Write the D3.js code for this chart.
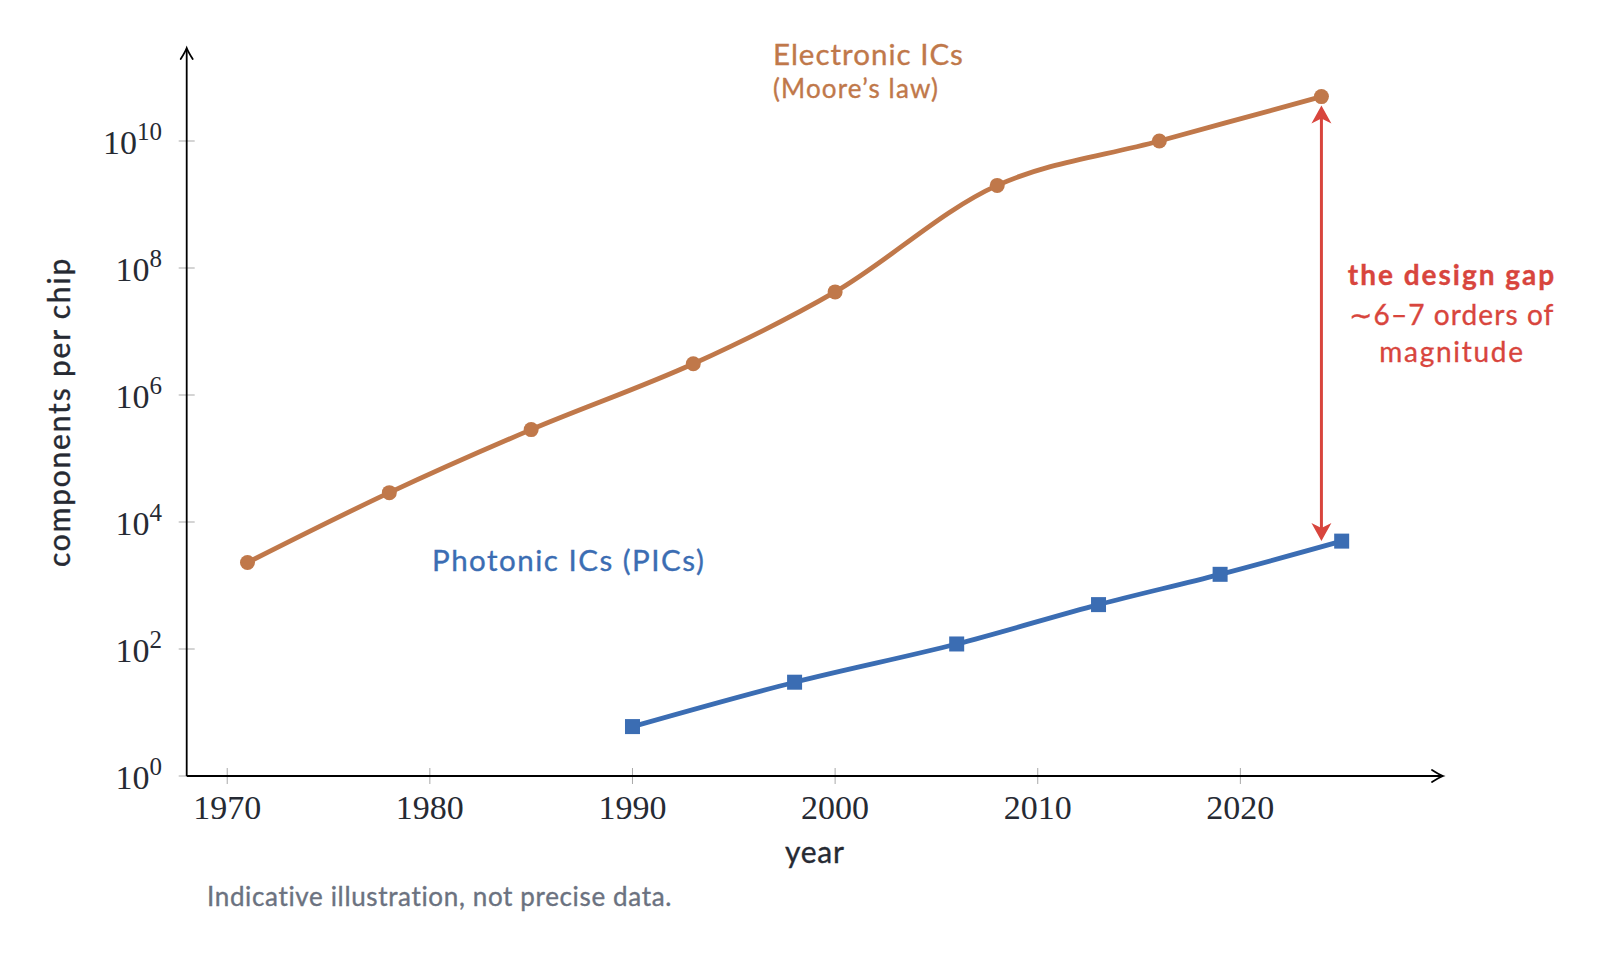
<!DOCTYPE html>
<html>
<head>
<meta charset="utf-8">
<script src="https://cdn.jsdelivr.net/npm/d3@7"></script>
<style>
  body{margin:0;background:#fff;}
  svg{display:block;}
</style>
</head>
<body>
<svg id="chart" width="1600" height="955"></svg>
<script>
// data
var electronicYears=[1971,1978,1985,1993,2000,2008,2016,2024];
var electronicVals=[2300,29000,285000,3.1e6,4.2e7,2e9,1e10,5e10];
var photonicYears=[1990,1998,2006,2013,2019,2025];
var photonicVals=[6,30,120,500,1500,5000];
var xTicks=[1970,1980,1990,2000,2010,2020];
var yTickExps=[0,2,4,6,8,10];
var gapYear=2024, gapTop=5e10, gapBottom=5e3;

var orange="#c0784a", blue="#3b6db3", red="#d8453d", ink="#262a33", grey="#6b7280";
var sans="Lato, 'Noto Sans', sans-serif";
var serif="'Liberation Serif', 'DejaVu Serif', serif";

var svg=d3.select("#chart");

var x=d3.scaleLinear().domain([1968,2030]).range([186.7,1443]);
var y=d3.scaleLog().domain([1,1e10]).range([776,141]);
var yTopPx=48;

var line=d3.line()
	.x(function(d){ return x(d[0]); })
	.y(function(d){ return y(d[1]); })
	.curve(d3.curveCatmullRom.alpha(0.5));

//grey ticks crossing the axes
svg.append("g").selectAll("line").data(xTicks).enter().append("line")
	.attr("x1",function(d){return x(d);}).attr("x2",function(d){return x(d);})
	.attr("y1",y(1)-8).attr("y2",y(1)+8)
	.attr("stroke","#a9a9a9").attr("stroke-width",1);
svg.append("g").selectAll("line").data(yTickExps).enter().append("line")
	.attr("y1",function(d){return y(Math.pow(10,d));}).attr("y2",function(d){return y(Math.pow(10,d));})
	.attr("x1",x.range()[0]-8).attr("x2",x.range()[0]+8)
	.attr("stroke","#a9a9a9").attr("stroke-width",1);

//axes lines
var x0=x.range()[0], y0=y(1), xEnd=x.range()[1];
svg.append("line").attr("x1",x0).attr("x2",xEnd-1).attr("y1",y0).attr("y2",y0)
	.attr("stroke","#000").attr("stroke-width",1.8);
svg.append("line").attr("x1",x0).attr("x2",x0).attr("y1",y0).attr("y2",yTopPx+1)
	.attr("stroke","#000").attr("stroke-width",1.8);

function axisArrow(px,py,angle){
	svg.append("path")
		.attr("d","M-6,11 Q-1.5,4 0,0 Q1.5,4 6,11")
		.attr("transform","translate("+px+","+py+") rotate("+angle+")")
		.attr("fill","none").attr("stroke","#000").attr("stroke-width",1.8)
		.attr("stroke-linecap","round");
}
axisArrow(x0,yTopPx,0);
axisArrow(xEnd,y0,90);

//tick labels
svg.append("g").selectAll("text").data(xTicks).enter().append("text")
	.attr("x",function(d){return x(d);}).attr("y",819)
	.attr("text-anchor","middle")
	.attr("font-family",serif).attr("font-size",34).attr("fill",ink)
	.text(function(d){return d;});

var yl=svg.append("g").selectAll("text").data(yTickExps).enter().append("text")
	.attr("x",162).attr("y",function(d){return y(Math.pow(10,d))+13;})
	.attr("text-anchor","end")
	.attr("font-family",serif).attr("font-size",34).attr("fill",ink);
yl.append("tspan").text("10");
yl.append("tspan").attr("dy",-14).attr("font-size",25).text(function(d){return d;});

//axis titles
svg.append("text").attr("x",(x0+xEnd)/2).attr("y",863)
	.attr("text-anchor","middle").attr("font-family",sans).attr("font-size",30)
	.attr("letter-spacing",0.7).attr("fill",ink).attr("stroke",ink).attr("stroke-width",0.35)
	.text("year");
svg.append("text").attr("transform","translate(70,412) rotate(-90)")
	.attr("text-anchor","middle").attr("font-family",sans).attr("font-size",30)
	.attr("letter-spacing",1.8).attr("fill",ink).attr("stroke",ink).attr("stroke-width",0.35)
	.text("components per chip");

//series
var eData=d3.zip(electronicYears,electronicVals);
var pData=d3.zip(photonicYears,photonicVals);

svg.append("path").datum(eData).attr("d",line)
	.attr("fill","none").attr("stroke",orange).attr("stroke-width",4.8).attr("stroke-linejoin","round");
svg.append("path").datum(pData).attr("d",line)
	.attr("fill","none").attr("stroke",blue).attr("stroke-width",4.8).attr("stroke-linejoin","round");

svg.append("g").selectAll("circle").data(eData).enter().append("circle")
	.attr("cx",function(d){return x(d[0]);}).attr("cy",function(d){return y(d[1]);})
	.attr("r",7.5).attr("fill",orange);
svg.append("g").selectAll("rect").data(pData).enter().append("rect")
	.attr("x",function(d){return x(d[0])-7.5;}).attr("y",function(d){return y(d[1])-7.5;})
	.attr("width",15).attr("height",15).attr("fill",blue);

//design gap arrow
var gx=x(gapYear), gy1=y(gapTop)+9, gy2=y(gapBottom);
svg.append("line").attr("x1",gx).attr("x2",gx).attr("y1",gy1+10).attr("y2",gy2-10)
	.attr("stroke",red).attr("stroke-width",3);
function stealth(px,py,angle){
	svg.append("path")
		.attr("d","M0,0 L-10,18 L0,13 L10,18 Z")
		.attr("transform","translate("+px+","+py+") rotate("+angle+")")
		.attr("fill",red);
}
stealth(gx,gy1,0);
stealth(gx,gy2,180);

//labels
var el=svg.append("text").attr("font-family",sans).attr("fill",orange).attr("stroke",orange).attr("stroke-width",0.35);
el.append("tspan").attr("x",773).attr("y",65).attr("font-size",29.5).attr("letter-spacing",1).text("Electronic ICs");
el.append("tspan").attr("x",773).attr("y",98).attr("font-size",26).attr("letter-spacing",1.15).text("(Moore\u2019s law)");

svg.append("text").attr("x",432).attr("y",571)
	.attr("font-family",sans).attr("font-size",29.5).attr("letter-spacing",1.5)
	.attr("fill",blue).attr("stroke",blue).attr("stroke-width",0.35)
	.text("Photonic ICs (PICs)");

var gt=svg.append("text").attr("font-family",sans).attr("fill",red).attr("stroke",red).attr("stroke-width",0.35)
	.attr("text-anchor","middle").attr("font-size",28);
gt.append("tspan").attr("x",1452).attr("y",285).attr("font-weight","bold").attr("letter-spacing",2).text("the design gap");
gt.append("tspan").attr("x",1452).attr("y",325).attr("letter-spacing",1.1).text("\u223C6\u20137 orders of");
gt.append("tspan").attr("x",1452).attr("y",362).attr("letter-spacing",1.7).text("magnitude");

svg.append("text").attr("x",207).attr("y",906)
	.attr("font-family",sans).attr("font-size",26).attr("letter-spacing",0.65)
	.attr("fill",grey).attr("stroke",grey).attr("stroke-width",0.35)
	.text("Indicative illustration, not precise data.");
</script>
</body>
</html>
